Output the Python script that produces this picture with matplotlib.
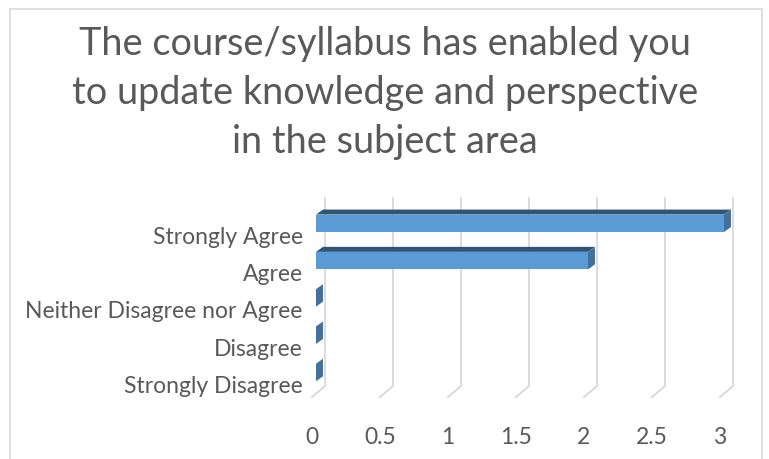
import matplotlib
matplotlib.use("Agg")
import matplotlib.pyplot as plt
from matplotlib.patches import Polygon, Rectangle
from matplotlib.transforms import ScaledTranslation

categories = ["Strongly Disagree", "Disagree", "Neither Disagree nor Agree",
              "Agree", "Strongly Agree"]
values = [0, 0, 0, 2, 3]
xticks = [0, 0.5, 1, 1.5, 2, 2.5, 3]

title = "The course/syllabus has enabled you\nto update knowledge and perspective\nin the subject area"

plt.rcParams["font.family"] = ["Lato", "DejaVu Sans"]
text_color = "#595959"
grid_color = "#D9D9D9"
front_color = "#5B9BD5"
top_color = "#2F5579"
side_color = "#41719C"

W, H = 769, 460
fig = plt.figure(figsize=(W / 100, H / 100), dpi=100)

# chart border
fig.patches.append(Rectangle((10 / W, -0.1), 752 / W, 1.1 - 10 / H,
                             transform=fig.transFigure, fill=False,
                             edgecolor="#D9D9D9", linewidth=1.2))

fig.text(385 / W, 1 - 93 / H, title, ha="center", va="center",
         fontsize=27.3, color=text_color, linespacing=1.45)

# plot area: x=0 at pixel 316, 136 px per unit; category i at 373.5 - 37.3*i
px_x = 136.0
px_y = 37.3
x0_pix = 316
xlim = (0, 3.2)
top_pix, bot_pix = 195, 400
ylim = (-(bot_pix - 373.5) / px_y, (373.5 - top_pix) / px_y)
ax = fig.add_axes([x0_pix / W, 1 - bot_pix / H,
                   (xlim[1] - xlim[0]) * px_x / W, (bot_pix - top_pix) / H])
ax.set_xlim(*xlim)
ax.set_ylim(*ylim)
for s in ax.spines.values():
    s.set_visible(False)

# 3D-ish gridlines: floor diagonal + back wall vertical
gx_front, gx_back = -4 / px_x, 9 / px_x
gy_front = -(398 - 373.5) / px_y
gy_back = -(387 - 373.5) / px_y
gy_top = (373.5 - 199) / px_y
for v in xticks:
    ax.plot([v + gx_front, v + gx_back, v + gx_back],
            [gy_front, gy_back, gy_top], color=grid_color, lw=1.3,
            clip_on=False, zorder=1, solid_joinstyle="miter")

# bars: front face + top face + right side face
bh = 17.5 / px_y
dx = 7 / px_x
dy = 5 / px_y
ypos = list(range(len(categories)))
ax.barh(ypos, values, height=bh, color=front_color, zorder=3)
for y, v in zip(ypos, values):
    yt = y + bh / 2
    yb = y - bh / 2
    ax.add_patch(Polygon([(0, yt), (v, yt), (v + dx, yt + dy), (dx, yt + dy)],
                         closed=True, facecolor=top_color, edgecolor="none",
                         zorder=3))
    ax.add_patch(Polygon([(v, yb), (v, yt), (v + dx, yt + dy), (v + dx, yb + dy)],
                         closed=True, facecolor=side_color, edgecolor="none",
                         zorder=3))

ax.set_yticks(ypos)
ax.set_yticklabels(categories, fontsize=16.5, color=text_color)
ax.set_xticks(xticks)
ax.set_xticklabels([f"{t:g}" for t in xticks], fontsize=16.5, color=text_color)
ax.tick_params(axis="both", length=0)
ax.tick_params(axis="y", pad=9.5)
ax.tick_params(axis="x", pad=-6)

for lab in ax.get_yticklabels():
    lab.set_transform(lab.get_transform() + ScaledTranslation(0, -11 / 100, fig.dpi_scale_trans))
for lab in ax.get_xticklabels():
    lab.set_transform(lab.get_transform() + ScaledTranslation(-4 / 100, -35 / 100, fig.dpi_scale_trans))

fig.savefig("out.png", dpi=100)
